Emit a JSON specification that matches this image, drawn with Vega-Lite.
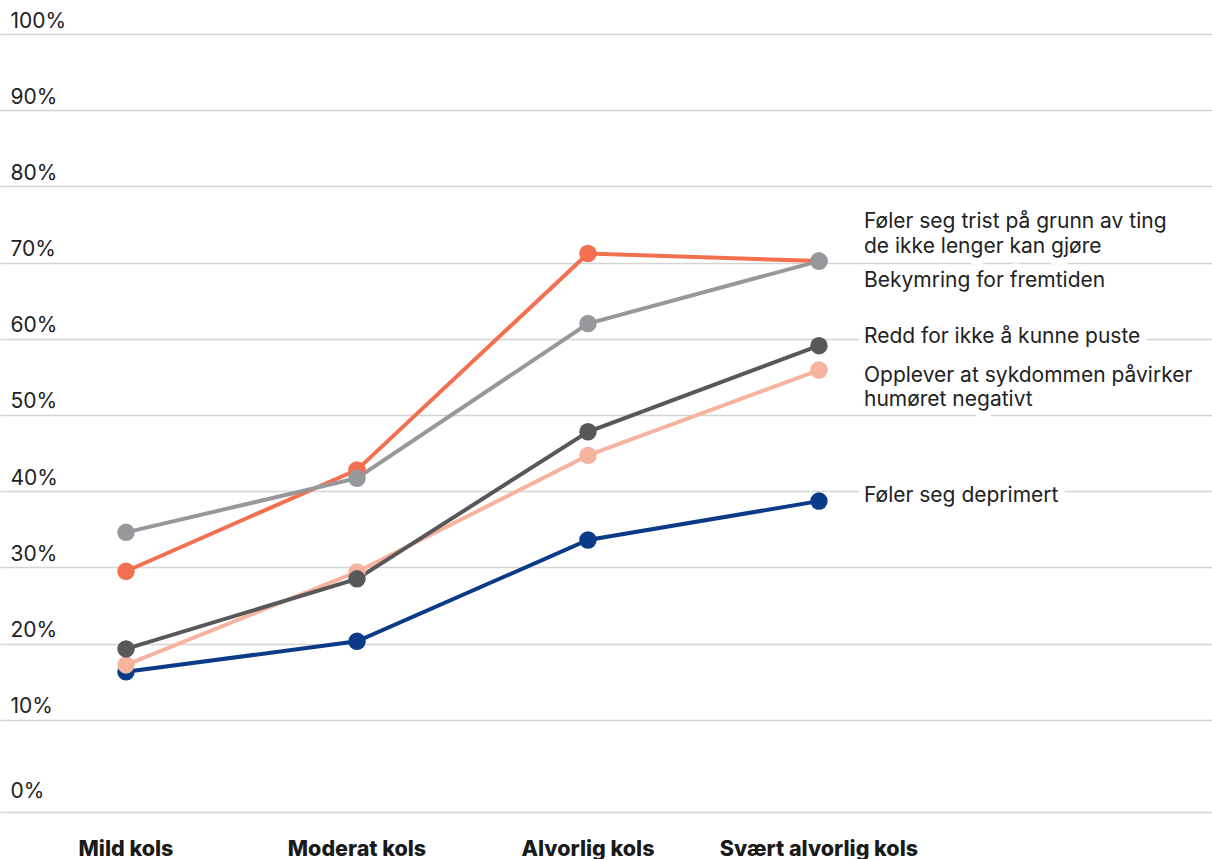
{
  "$schema": "https://vega.github.io/schema/vega-lite/v6.json",
  "width": 1212,
  "height": 778,
  "autosize": {"type": "none"},
  "padding": {"left": 0, "top": 34, "right": 0, "bottom": 47},
  "background": "white",
  "config": {"view": {"stroke": null}, "font": "Inter"},
  "data": {
    "values": [
      {"series": "Føler seg deprimert", "stage": "Mild kols", "value": 16.3},
      {"series": "Føler seg deprimert", "stage": "Moderat kols", "value": 20.3},
      {"series": "Føler seg deprimert", "stage": "Alvorlig kols", "value": 33.6},
      {"series": "Føler seg deprimert", "stage": "Svært alvorlig kols", "value": 38.7},
      {"series": "Opplever at sykdommen påvirker humøret negativt", "stage": "Mild kols", "value": 17.2},
      {"series": "Opplever at sykdommen påvirker humøret negativt", "stage": "Moderat kols", "value": 29.4},
      {"series": "Opplever at sykdommen påvirker humøret negativt", "stage": "Alvorlig kols", "value": 44.7},
      {"series": "Opplever at sykdommen påvirker humøret negativt", "stage": "Svært alvorlig kols", "value": 55.9},
      {"series": "Redd for ikke å kunne puste", "stage": "Mild kols", "value": 19.3},
      {"series": "Redd for ikke å kunne puste", "stage": "Moderat kols", "value": 28.5},
      {"series": "Redd for ikke å kunne puste", "stage": "Alvorlig kols", "value": 47.8},
      {"series": "Redd for ikke å kunne puste", "stage": "Svært alvorlig kols", "value": 59.1},
      {"series": "Føler seg trist på grunn av ting de ikke lenger kan gjøre", "stage": "Mild kols", "value": 29.5},
      {"series": "Føler seg trist på grunn av ting de ikke lenger kan gjøre", "stage": "Moderat kols", "value": 42.8},
      {"series": "Føler seg trist på grunn av ting de ikke lenger kan gjøre", "stage": "Alvorlig kols", "value": 71.2},
      {"series": "Føler seg trist på grunn av ting de ikke lenger kan gjøre", "stage": "Svært alvorlig kols", "value": 70.2},
      {"series": "Bekymring for fremtiden", "stage": "Mild kols", "value": 34.6},
      {"series": "Bekymring for fremtiden", "stage": "Moderat kols", "value": 41.7},
      {"series": "Bekymring for fremtiden", "stage": "Alvorlig kols", "value": 62.0},
      {"series": "Bekymring for fremtiden", "stage": "Svært alvorlig kols", "value": 70.2}
    ]
  },
  "encoding": {
    "x": {
      "field": "stage",
      "type": "ordinal",
      "sort": ["Mild kols", "Moderat kols", "Alvorlig kols", "Svært alvorlig kols"],
      "scale": {"type": "band", "paddingInner": 0.753, "paddingOuter": 1, "align": 0.211},
      "axis": {
        "title": null,
        "domain": false,
        "ticks": false,
        "tickSize": 0,
        "grid": false,
        "labelAngle": 0,
        "labelLimit": 0,
        "labelFont": "Inter",
        "labelFontWeight": 800,
        "labelFontSize": 21.5,
        "labelColor": "#1a1a1a",
        "labelBaseline": "alphabetic",
        "labelPadding": 43
      }
    },
    "y": {
      "field": "value",
      "type": "quantitative",
      "scale": {"domain": [-2.1, 100], "nice": false, "zero": false},
      "axis": {
        "title": null,
        "values": [-2.1, 0, 10, 20, 30, 40, 50, 60, 70, 80, 90, 100],
        "labelExpr": "datum.value < 0 ? '' : datum.value + '%'",
        "domain": false,
        "ticks": false,
        "tickSize": 0,
        "grid": true,
        "gridColor": "#d4d4d4",
        "gridWidth": 1.5,
        "gridOpacity": {"condition": {"test": "datum.value === 0", "value": 0}, "value": 1},
        "labelAlign": "left",
        "labelBaseline": "alphabetic",
        "labelPadding": -10,
        "labelOffset": {"condition": {"test": "datum.value === 0", "value": 2}, "value": -7},
        "labelFont": "Inter",
        "labelFontSize": 21,
        "labelColor": "#222222"
      }
    }
  },
  "layer": [
    {
      "mark": {"type": "line", "strokeWidth": 4},
      "encoding": {
        "color": {
          "field": "series",
          "type": "nominal",
          "legend": null,
          "scale": {
            "domain": ["Føler seg deprimert", "Opplever at sykdommen påvirker humøret negativt", "Redd for ikke å kunne puste", "Føler seg trist på grunn av ting de ikke lenger kan gjøre", "Bekymring for fremtiden"],
            "range": ["#0a3a88", "#f6b49e", "#58585a", "#f2704f", "#97989c"]
          }
        }
      }
    },
    {
      "mark": {"type": "point", "shape": "circle", "filled": true, "opacity": 1, "size": 305},
      "encoding": {
        "color": {"field": "series", "type": "nominal", "legend": null}
      }
    },
    {
      "transform": [{"filter": "datum.stage === 'Svært alvorlig kols' && datum.series === 'Føler seg trist på grunn av ting de ikke lenger kan gjøre'"}],
      "encoding": {"text": {"value": ["Føler seg trist på grunn av ting", "de ikke lenger kan gjøre"]}},
      "layer": [
        {"mark": {"type": "text", "align": "left", "baseline": "alphabetic", "dx": 45, "dy": -33, "fontSize": 21, "lineHeight": 25, "color": "white", "stroke": "white", "strokeWidth": 14, "strokeJoin": "round"}},
        {"mark": {"type": "text", "align": "left", "baseline": "alphabetic", "dx": 45, "dy": -33, "fontSize": 21, "lineHeight": 25, "color": "#222222"}}
      ]
    },
    {
      "transform": [{"filter": "datum.stage === 'Svært alvorlig kols' && datum.series === 'Bekymring for fremtiden'"}],
      "encoding": {"text": {"value": "Bekymring for fremtiden"}},
      "layer": [
        {"mark": {"type": "text", "align": "left", "baseline": "alphabetic", "dx": 45, "dy": 26, "fontSize": 21, "color": "white", "stroke": "white", "strokeWidth": 14, "strokeJoin": "round"}},
        {"mark": {"type": "text", "align": "left", "baseline": "alphabetic", "dx": 45, "dy": 26, "fontSize": 21, "color": "#222222"}}
      ]
    },
    {
      "transform": [{"filter": "datum.stage === 'Svært alvorlig kols' && datum.series === 'Redd for ikke å kunne puste'"}],
      "encoding": {"text": {"value": "Redd for ikke å kunne puste"}},
      "layer": [
        {"mark": {"type": "text", "align": "left", "baseline": "alphabetic", "dx": 45, "dy": -3, "fontSize": 21, "color": "white", "stroke": "white", "strokeWidth": 14, "strokeJoin": "round"}},
        {"mark": {"type": "text", "align": "left", "baseline": "alphabetic", "dx": 45, "dy": -3, "fontSize": 21, "color": "#222222"}}
      ]
    },
    {
      "transform": [{"filter": "datum.stage === 'Svært alvorlig kols' && datum.series === 'Opplever at sykdommen påvirker humøret negativt'"}],
      "encoding": {"text": {"value": ["Opplever at sykdommen påvirker", "humøret negativt"]}},
      "layer": [
        {"mark": {"type": "text", "align": "left", "baseline": "alphabetic", "dx": 45, "dy": 12, "fontSize": 21, "lineHeight": 24, "color": "white", "stroke": "white", "strokeWidth": 14, "strokeJoin": "round"}},
        {"mark": {"type": "text", "align": "left", "baseline": "alphabetic", "dx": 45, "dy": 12, "fontSize": 21, "lineHeight": 24, "color": "#222222"}}
      ]
    },
    {
      "transform": [{"filter": "datum.stage === 'Svært alvorlig kols' && datum.series === 'Føler seg deprimert'"}],
      "encoding": {"text": {"value": "Føler seg deprimert"}},
      "layer": [
        {"mark": {"type": "text", "align": "left", "baseline": "alphabetic", "dx": 45, "dy": 1, "fontSize": 21, "color": "white", "stroke": "white", "strokeWidth": 14, "strokeJoin": "round"}},
        {"mark": {"type": "text", "align": "left", "baseline": "alphabetic", "dx": 45, "dy": 1, "fontSize": 21, "color": "#222222"}}
      ]
    }
  ]
}
